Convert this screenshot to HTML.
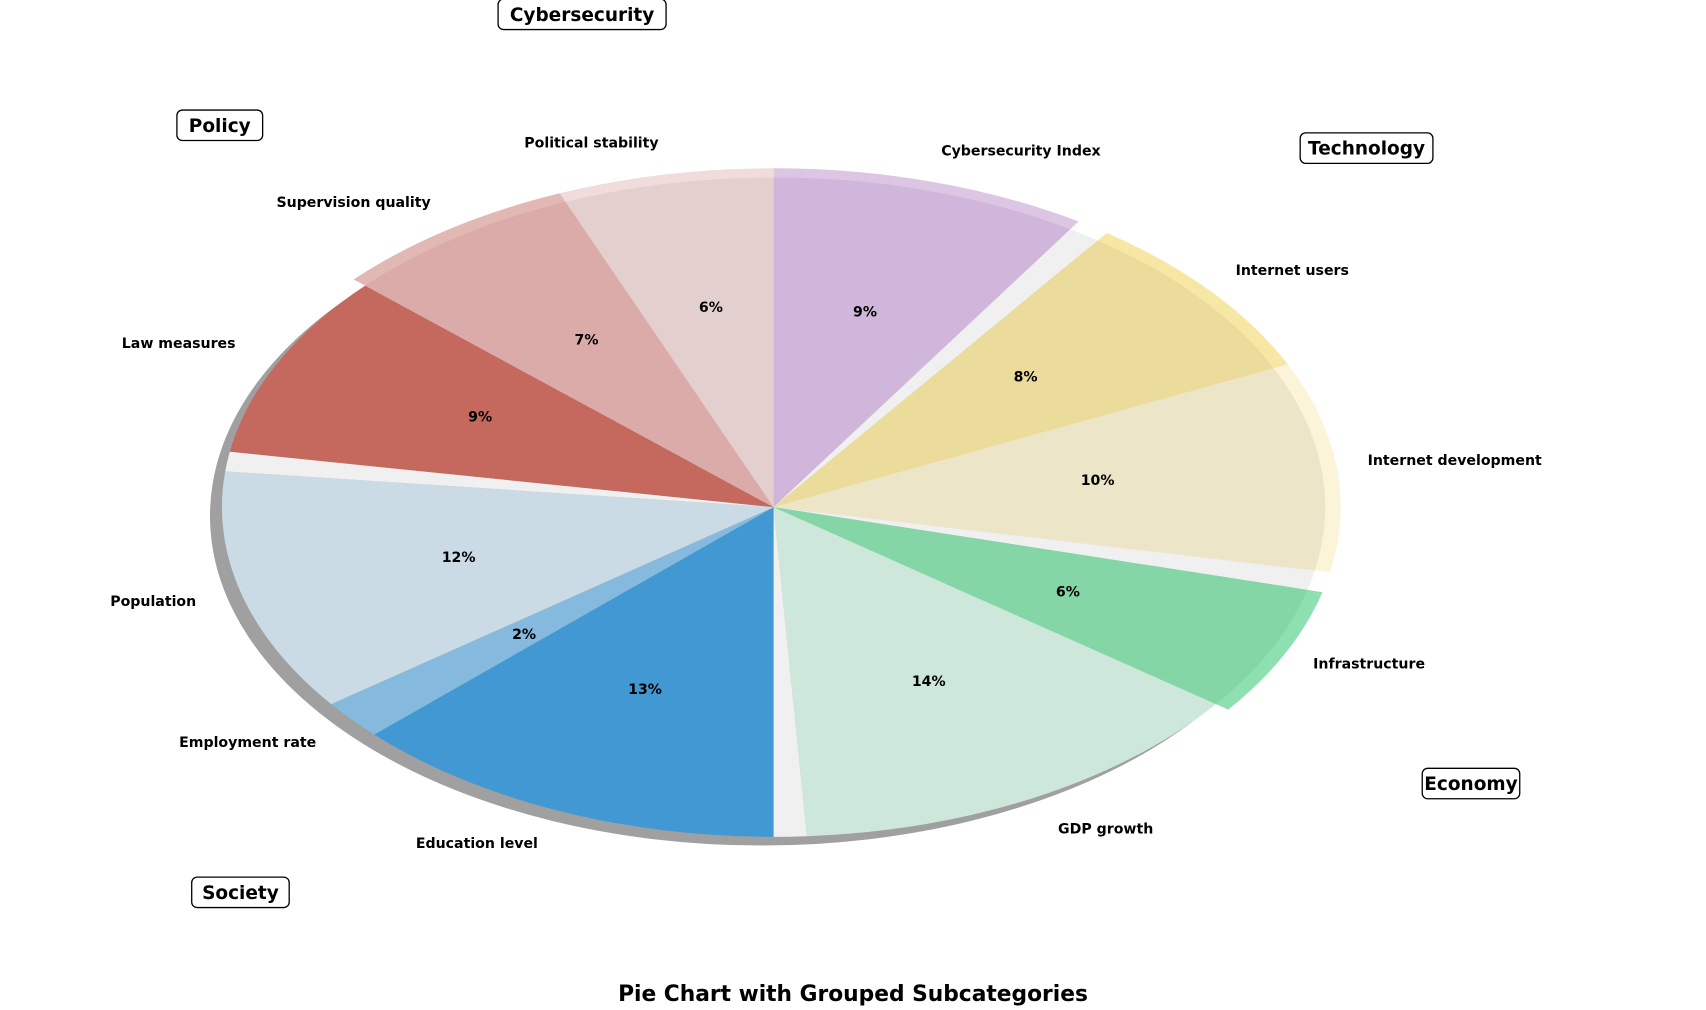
<!DOCTYPE html>
<html><head><meta charset="utf-8"><style>
html,body{margin:0;padding:0;background:#fff;}
svg{display:block;font-family:"DejaVu Sans","Liberation Sans",sans-serif;}
</style></head><body>
<svg id="chart" width="1706" height="1010" viewBox="0 0 1568 928" xmlns="http://www.w3.org/2000/svg">
<rect width="1568" height="928" fill="#fff"/>
<g id="pie"></g>
<g id="labels"></g>
<g id="groups"></g>
<text x="784" y="920" text-anchor="middle" font-size="20" font-weight="bold">Pie Chart with Grouped Subcategories</text>
</svg>
<script>
const categories = ["Cybersecurity Index","","Internet users","Internet development","","Infrastructure","GDP growth","","Education level","Employment rate","Population","","Law measures","Supervision quality","Political stability"];
const values = [9.4,1.0,8.4,10.4,1.0,6.4,14.4,1.0,13.4,2.0,12.4,1.0,9.4,7.4,6.4];
const isGap = [0,1,0,0,1,0,0,1,0,0,0,1,0,0,0];
const hasRing = [1,0,1,1,0,1,0,0,0,0,0,0,0,1,1];
const colors = ["#cfb6da","#f0f0f0","#ecdc9b","#ede5c8","#f0f0f0","#84d6a6","#cde8da","#f0f0f0","#4298d2","#85b9dd","#cadbe5","#f0f0f0","#c5685e","#daaba8","#e4cfcf"];
const outerColors = ["#dcc6e4","#f0f0f0","#f7e7a5","#fbf4d8","#f0f0f0","#8fe0b0","#d6efe2","#f0f0f0","#4298d2","#85b9dd","#cadbe5","#f0f0f0","#c5685e","#e2b8b5","#efdcdb"];
const groupNames = ["Cybersecurity","Policy","Technology","Economy","Society"];
const groupPos = [[535,13],[202,115],[1256,136],[1352,720],[221,820]];

const NS="http://www.w3.org/2000/svg";
const cx=711, cy=466, rx=507, ry=303;
const total = values.reduce((a,b)=>a+b,0);
const realTotal = values.filter((v,i)=>!isGap[i]).reduce((a,b)=>a+b,0);
function pt(a,s){return [cx+rx*s*Math.cos(a*Math.PI/180), cy-ry*s*Math.sin(a*Math.PI/180)];}
function lpt(a,s){return [711+500*s*Math.cos(a*Math.PI/180), 463-308*s*Math.sin(a*Math.PI/180)];}
function wedge(a1,a2,s){
  const p1=pt(a1,s), p2=pt(a2,s);
  const large=(a1-a2)>180?1:0;
  return `M${cx},${cy} L${p1[0]},${p1[1]} A${rx*s},${ry*s} 0 ${large} 1 ${p2[0]},${p2[1]} Z`;
}
const pie=document.getElementById('pie');
const labels=document.getElementById('labels');
const sh=document.createElementNS(NS,'ellipse');


sh.setAttribute('cx',cx-11);sh.setAttribute('cy',cy+8);sh.setAttribute('rx',rx);sh.setAttribute('ry',ry);sh.setAttribute('fill','#a0a0a0');
pie.appendChild(sh);
let a=90;
values.forEach((v,i)=>{
  const span=v/total*360, a2=a-span;
  if(hasRing[i]){
    const o=document.createElementNS(NS,'path');
    
    
    o.setAttribute('d',wedge(a,a2,1.028));o.setAttribute('fill',outerColors[i]);
    pie.appendChild(o);
  }
  const p=document.createElementNS(NS,'path');
  
  
  p.setAttribute('d',wedge(a,a2,1.0));p.setAttribute('fill',colors[i]);
  pie.appendChild(p);
  if(!isGap[i]){
    const m=(a+a2)/2;
    const pp=lpt(m,0.6);
    const t=document.createElementNS(NS,'text');
    
    
    t.setAttribute('x',pp[0]);t.setAttribute('y',pp[1]+5);t.setAttribute('text-anchor','middle');
    t.setAttribute('font-size','13');t.setAttribute('font-weight','bold');
    t.textContent=Math.round(v/realTotal*100)+'%';
    labels.appendChild(t);
    const lp=lpt(m,1.1);
    const n=document.createElementNS(NS,'text');
    
    
    n.setAttribute('x',lp[0]);n.setAttribute('y',lp[1]+5);
    n.setAttribute('text-anchor',Math.cos(m*Math.PI/180)>=0?'start':'end');
    n.setAttribute('font-size','13');n.setAttribute('font-weight','bold');
    n.textContent=categories[i];
    labels.appendChild(n);
  }
  a=a2;
});
const groups=document.getElementById('groups');
groupNames.forEach((g,i)=>{
  const w=g.length*10.8+14;
  const r=document.createElementNS(NS,'rect');
  
  
  r.setAttribute('x',groupPos[i][0]-w/2);r.setAttribute('y',groupPos[i][1]-14);
  r.setAttribute('width',w);r.setAttribute('height',28);r.setAttribute('rx',5);
  r.setAttribute('fill','#fff');r.setAttribute('stroke','#000');r.setAttribute('stroke-width','1.2');
  groups.appendChild(r);
  const t=document.createElementNS(NS,'text');
  
  
  t.setAttribute('x',groupPos[i][0]);t.setAttribute('y',groupPos[i][1]+6);
  t.setAttribute('text-anchor','middle');t.setAttribute('font-size','17');t.setAttribute('font-weight','bold');
  t.textContent=g;
  groups.appendChild(t);
});
</script>
</body></html>
